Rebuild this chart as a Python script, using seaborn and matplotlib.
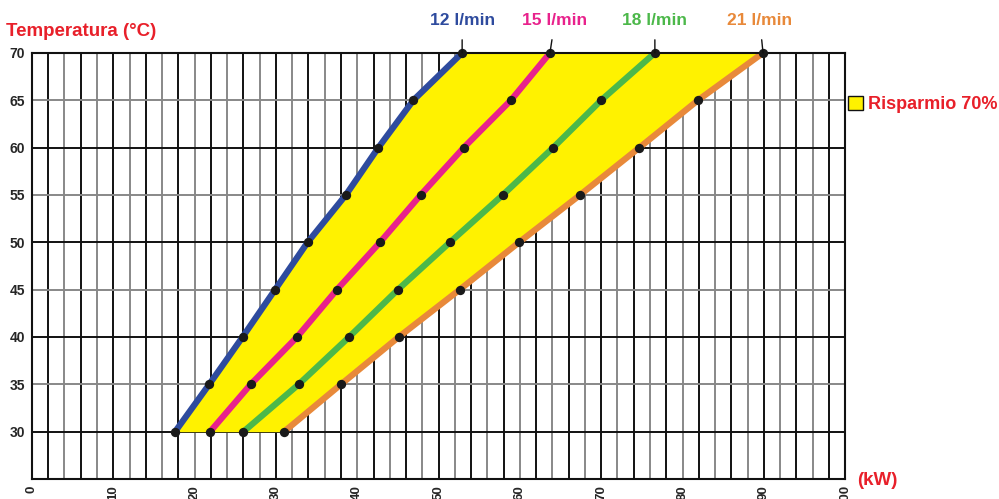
import numpy as np
import pandas as pd
import seaborn as sns
import matplotlib.pyplot as plt
from matplotlib.patches import Patch

temps = [30, 35, 40, 45, 50, 55, 60, 65, 70]
kw_12 = [17.6, 21.8, 25.9, 29.9, 33.9, 38.6, 42.6, 46.9, 52.9]
kw_15 = [21.9, 26.9, 32.6, 37.5, 42.8, 47.8, 53.1, 58.9, 63.7]
kw_18 = [26.0, 32.8, 39.0, 45.0, 51.4, 57.9, 64.1, 70.0, 76.6]
kw_21 = [31.0, 38.0, 45.1, 52.6, 59.9, 67.4, 74.7, 81.9, 89.9]
series = ["12 l/min", "15 l/min", "18 l/min", "21 l/min"]
colors = ["#2e4b9e", "#e8228c", "#4cb84a", "#e8893a"]
red = "#e8202a"

rows = []
for name, vals in zip(series, [kw_12, kw_15, kw_18, kw_21]):
    for t, k in zip(temps, vals):
        rows.append({"kW": k, "T": t, "serie": name})
df = pd.DataFrame(rows)

sns.set_style("white")
plt.rcParams['font.family'] = ['Liberation Sans', 'DejaVu Sans']

fig = plt.figure(figsize=(9.99, 4.99), dpi=100)
ax = fig.add_axes([0.032, 0.040, 0.814, 0.854])

# griglia
for i, x in enumerate(range(2, 100, 2)):
    ax.axvline(x, color="#111111" if i % 2 == 0 else "#888888", lw=1.4, zorder=0)
for y in range(30, 70, 5):
    ax.axhline(y, color="#111111" if y % 10 == 0 else "#888888", lw=1.4, zorder=0)

# zona risparmio
ax.fill_betweenx(temps, kw_12, kw_21, color="#fff200", lw=0, zorder=1)

sns.lineplot(data=df, x="kW", y="T", hue="serie", palette=colors, lw=4.5,
             sort=False, legend=False, ax=ax, zorder=2)
sns.scatterplot(data=df, x="kW", y="T", color="#1a1a1a", s=45, lw=0,
                legend=False, ax=ax, zorder=3, clip_on=False)

ax.set_xlim(0, 100)
ax.set_ylim(25, 70)
ax.set_xticks(range(0, 101, 10))
ax.set_xticklabels([str(v) for v in range(0, 101, 10)], rotation=90,
                   fontweight="bold", fontsize=9.5)
ax.set_yticks(range(30, 71, 5))
ax.set_yticklabels([str(v) for v in range(30, 71, 5)], fontweight="bold", fontsize=10)
ax.set_yticks(range(25, 71, 1), minor=True)
ax.tick_params(axis="y", which="both", direction="inout", length=6, width=1, color="#111111", pad=2)
ax.tick_params(axis="x", direction="inout", length=5, width=1, color="#111111", pad=2)
ax.tick_params(axis="y", which="minor", length=4)
for s in ax.spines.values():
    s.set_color("#111111")
    s.set_linewidth(1.5)
ax.set_xlabel("")
ax.set_ylabel("")

fig.text(0.006, 0.936, "Temperatura (°C)", color=red, fontsize=13.5, fontweight="bold", va="center")
fig.text(0.858, 0.038, "(kW)", color=red, fontsize=13.5, fontweight="bold", va="center")

# etichette portate
for name, vals, c, dx in zip(series, [kw_12, kw_15, kw_18, kw_21], colors, [0, 0.6, 0, -0.4]):
    ax.annotate(name, xy=(vals[-1], 70), xytext=(vals[-1] + dx, 73.4),
                color=c, fontsize=12.5, fontweight="bold", ha="center", va="center",
                arrowprops=dict(arrowstyle="-", color="#111111", lw=1, shrinkA=6, shrinkB=0),
                annotation_clip=False)

leg = ax.legend(handles=[Patch(facecolor="#fff200", edgecolor="#111111", label="Risparmio 70%")],
                loc="center left", bbox_to_anchor=(0.995, 0.878), frameon=False,
                handlelength=0.8, handleheight=0.8, handletextpad=0.3, borderaxespad=0.2,
                borderpad=0.2, prop={"weight": "bold", "size": 13})
for t in leg.get_texts():
    t.set_color(red)

fig.savefig("out.png", dpi=100)
